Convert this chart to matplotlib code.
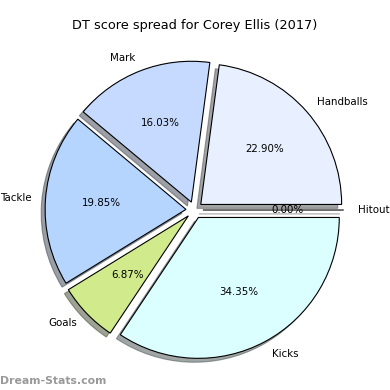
import matplotlib
matplotlib.use("Agg")
import matplotlib.pyplot as plt

labels = ["Hitout", "Handballs", "Mark", "Tackle", "Goals", "Kicks"]
values = [0, 60, 42, 52, 18, 90]
colors = ["#ffffff", "#e8f0ff", "#c6d9ff", "#b5d5ff", "#d0ea8c", "#dbffff"]
explode = [0.06] * len(values)

fig, ax = plt.subplots(figsize=(3.9, 3.9), dpi=100)
fig.subplots_adjust(left=0.047, right=0.95, top=0.913, bottom=0.01)
wedges, texts, autotexts = ax.pie(values, labels=labels, colors=colors, explode=explode,
                                  autopct="%1.2f%%",
                                  shadow=dict(ox=-0.02, oy=-0.02, shade=0.7),
                                  startangle=0,
                                  wedgeprops=dict(edgecolor="black", linewidth=0.8),
                                  textprops=dict(fontsize=7.4))
ax.set_aspect("equal")
fig.text(0.5, 1 - 25 / 390, "DT score spread for Corey Ellis (2017)", fontsize=9.3,
         ha="center", va="center")
fig.text(0.0, 0.015, "Dream-Stats.com", fontsize=7.8, color="#999999",
         fontweight="bold", va="baseline")
fig.savefig("out.png", dpi=100)
